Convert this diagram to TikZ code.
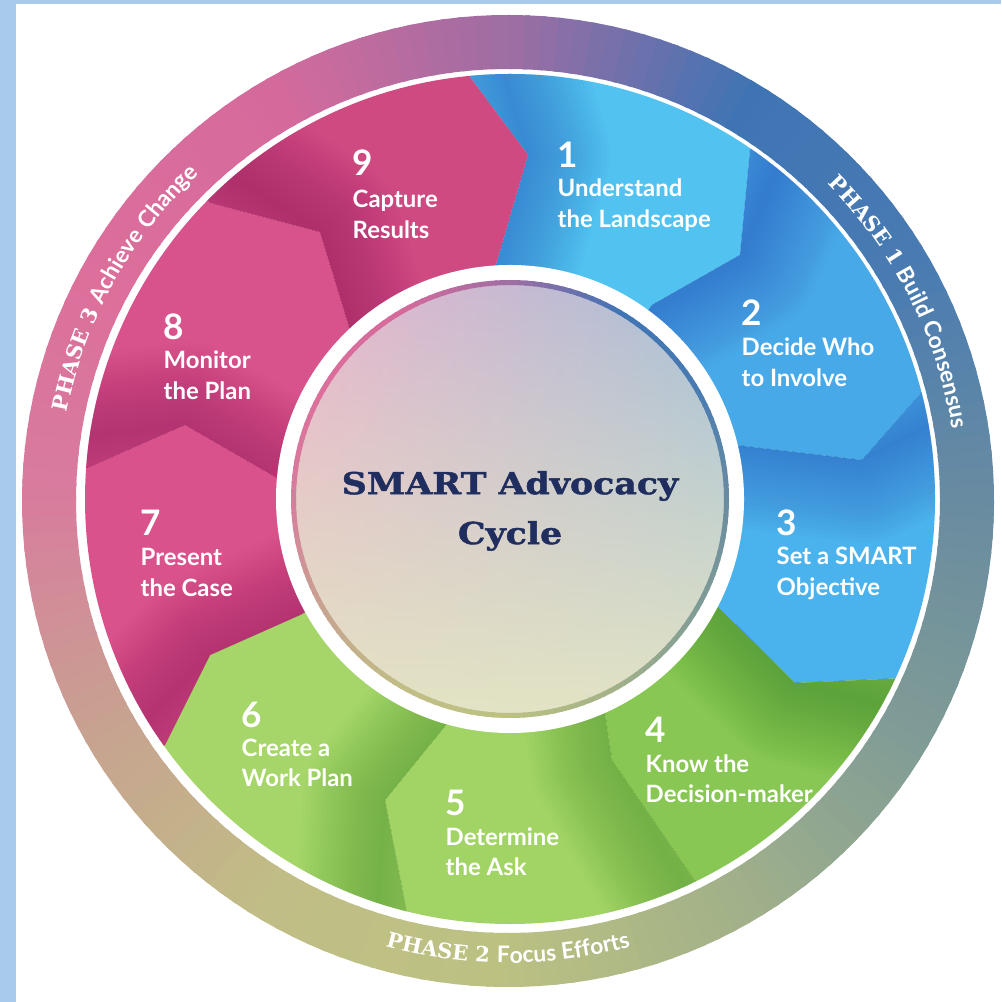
\documentclass[tikz,border=0pt]{standalone}
\usepackage{fontspec}
\usetikzlibrary{calc,decorations.text,fadings}
\newfontfamily\labfont{Lato}
\newfontfamily\slabfont{DejaVu Serif}
\newfontfamily\titlefont[FakeStretch=1.15, FakeBold=1.5]{DejaVu Serif}
\definecolor{bgblue}{HTML}{A8CBEC}
\definecolor{titlec}{HTML}{1F2E5E}
% ring palette (image angles, clockwise from east)
\definecolor{rk0}{HTML}{6A8CA0}
\definecolor{rk1}{HTML}{809C96}
\definecolor{rk2}{HTML}{A2B189}
\definecolor{rk3}{HTML}{BCC182}
\definecolor{rk4}{HTML}{C0BE86}
\definecolor{rk5}{HTML}{C8A290}
\definecolor{rk6}{HTML}{D87C9E}
\definecolor{rk7}{HTML}{DC6E9B}
\definecolor{rk8}{HTML}{D46A9C}
\definecolor{rk9}{HTML}{9C6EA3}
\definecolor{rk10}{HTML}{3F74B4}
\definecolor{rk11}{HTML}{4A7CB2}
% segments
\definecolor{s1}{HTML}{52C3F0}\definecolor{sh1}{HTML}{2A5FC0}
\definecolor{s2}{HTML}{48A9E8}\definecolor{sh2}{HTML}{2A5FC0}
\definecolor{s3}{HTML}{4AB2EC}\definecolor{sh3}{HTML}{2A5FC0}
\definecolor{s4}{HTML}{88C753}\definecolor{sh4}{HTML}{3F8A2A}
\definecolor{s5}{HTML}{A2D465}\definecolor{sh5}{HTML}{4F9A32}
\definecolor{s6}{HTML}{A6D669}\definecolor{sh6}{HTML}{4F9A32}
\definecolor{s7}{HTML}{D9528C}\definecolor{sh7}{HTML}{9A2060}
\definecolor{s8}{HTML}{D8538C}\definecolor{sh8}{HTML}{9A2060}
\definecolor{s9}{HTML}{D04A82}\definecolor{sh9}{HTML}{9A2060}
\definecolor{cpink}{HTML}{EAB4CC}
\definecolor{cblue}{HTML}{A4C0D9}
\definecolor{ccream}{HTML}{E3E4C4}
\tikzset{
  numst/.style={anchor=base west, inner sep=0pt, text=white, font=\labfont\bfseries\fontsize{10}{12}\selectfont},
  labst/.style={anchor=base west, inner sep=0pt, text=white, font=\labfont\bfseries\fontsize{6.8}{8.54}\selectfont},
  ringtext/.style={decorate, decoration={text along path, text align=center, text color=white}},
}
\newcommand\twol[2]{\begin{tabular}[t]{@{}l@{}}#1\\#2\end{tabular}}
\newcommand\conicring[3]{%
  \foreach \a in {0,2,...,358}{%
    \pgfmathtruncatemacro\j{\a/30}%
    \pgfmathtruncatemacro\jn{mod(\j+1,12)}%
    \pgfmathtruncatemacro\wt{100-(\a-30*\j)*10/3}%
    \colorlet{segc}{rk\j!\wt!rk\jn}%
    \fill[segc] ($(#3)+(\a:#1)$) arc[start angle=\a, end angle=\a+2.6, radius=#1]
      -- ($(#3)+(\a+2.6:#2)$) arc[start angle=\a+2.6, end angle=\a, radius=#2] -- cycle;
  }}
\newcommand\seg[4]{%
  \begin{scope}
    \clip (C) -- (I#1) -- (K#1) -- (O#1) -- ($(C)!1.4!(O#1)$) -- ($(C)!1.4!(O#2)$)
      -- (O#2) -- (K#2) -- (I#2) -- cycle;
    \fill[#3] (C) circle (430);
    \foreach \w in {4,12,...,164}
      \draw[#4, line width=\w*0.1mm, opacity=0.03, line join=round]
        (C) -- (I#1) -- (K#1) -- ($(C)!1.4!(O#1)$);
  \end{scope}}
\begin{document}
\begin{tikzpicture}[x=0.1mm,y=-0.1mm]
\useasboundingbox (0,0) rectangle (1001,1002);
\fill[bgblue] (0,0) rectangle (1001,1002);
\fill[white] (16,4) rectangle (1001,1002);
\coordinate (C) at (510,499);
\coordinate (RC) at (508,501);
% boundaries: outer point, kink, inner point
\coordinate (O1) at (470,77);  \coordinate (K1) at (528,155); \coordinate (I1) at (495,268);
\coordinate (O2) at (750,150); \coordinate (K2) at (740,255); \coordinate (I2) at (652,305);
\coordinate (O3) at (925,388); \coordinate (K3) at (862,460); \coordinate (I3) at (735,445);
\coordinate (O4) at (905,678); \coordinate (K4) at (795,683); \coordinate (I4) at (718,607);
\coordinate (O5) at (696,882); \coordinate (K5) at (612,760); \coordinate (I5) at (605,714);
\coordinate (O6) at (407,912); \coordinate (K6) at (385,800); \coordinate (I6) at (446,725);
\coordinate (O7) at (165,745); \coordinate (K7) at (210,655); \coordinate (I7) at (300,615);
\coordinate (O8) at (88,468);  \coordinate (K8) at (185,425); \coordinate (I8) at (277,478);
\coordinate (O9) at (210,203); \coordinate (K9) at (320,232); \coordinate (I9) at (350,330);
% outer phase ring
\conicring{486}{432}{RC}
% segments
\begin{scope}
  \clip (C) circle (425);
  \seg{1}{2}{s1}{sh1}
  \seg{2}{3}{s2}{sh2}
  \seg{3}{4}{s3}{sh3}
  \seg{4}{5}{s4}{sh4}
  \seg{5}{6}{s5}{sh5}
  \seg{6}{7}{s6}{sh6}
  \seg{7}{8}{s7}{sh7}
  \seg{8}{9}{s8}{sh8}
  \seg{9}{1}{s9}{sh9}
\end{scope}
% centre circle
\fill[white] (C) circle (234);
\shade[left color=cpink, right color=cblue] (C) circle (218);
\fill[ccream, path fading=north] (C) circle (218);
\conicring{219}{214}{C}
\node[font=\titlefont\bfseries\fontsize{8.6}{14.2}\selectfont, text=titlec, align=center, inner sep=0pt] (title) at (510,511) {SMART Advocacy\\Cycle};
% phase labels
\path[ringtext, decoration={text={|\slabfont\bfseries\fontsize{6}{7}\selectfont|PHASE 1 |\labfont\bfseries\fontsize{6.5}{7}\selectfont|Build Consensus}}]
  ($(RC)+(300:450)$) arc[start angle=300, end angle=366, radius=450];
\path[ringtext, decoration={text={|\slabfont\bfseries\fontsize{6}{7}\selectfont|PHASE 2 |\labfont\bfseries\fontsize{6.5}{7}\selectfont|Focus Efforts}}]
  ($(RC)+(120:462)$) arc[start angle=120, end angle=60, radius=462];
\path[ringtext, decoration={text={|\slabfont\bfseries\fontsize{6}{7}\selectfont|PHASE 3 |\labfont\bfseries\fontsize{6.5}{7}\selectfont|Achieve Change}}]
  ($(RC)+(176:450)$) arc[start angle=176, end angle=242, radius=450];
% step labels
\node[numst] (n1) at (557,168) {1};
\node[labst] (t1) at (557,197) {\twol{Understand}{the Landscape}};
\node[numst] (n2) at (741,326) {2};
\node[labst] (t2) at (741,356) {\twol{Decide Who}{to Involve}};
\node[numst] (n3) at (776,536) {3};
\node[labst] (t3) at (776,565) {\twol{Set a SMART}{Objective}};
\node[numst] (n4) at (645,742) {4};
\node[labst] (t4) at (645,772) {\twol{Know the}{Decision-maker}};
\node[numst] (n5) at (445,815) {5};
\node[labst] (t5) at (445,845) {\twol{Determine}{the Ask}};
\node[numst] (n6) at (241,727) {6};
\node[labst] (t6) at (241,756) {\twol{Create a}{Work Plan}};
\node[numst] (n7) at (140,536) {7};
\node[labst] (t7) at (140,566) {\twol{Present}{the Case}};
\node[numst] (n8) at (163,340) {8};
\node[labst] (t8) at (163,369) {\twol{Monitor}{the Plan}};
\node[numst] (n9) at (352,176) {9};
\node[labst] (t9) at (352,208) {\twol{Capture}{Results}};
\end{tikzpicture}
\end{document}
